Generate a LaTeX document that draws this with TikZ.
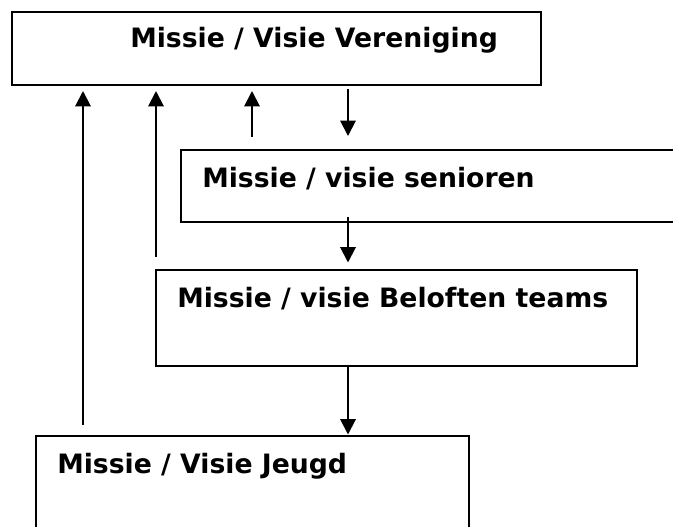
\documentclass[tikz,border=0pt]{standalone}
\usepackage{fontspec}
\setmainfont{DejaVu Sans}
\usetikzlibrary{arrows.meta}

\tikzset{
  box/.style={draw, line width=1.5pt, anchor=north west, inner sep=0pt},
  title/.style={draw=none, anchor=base west, inner sep=0pt,
    font=\bfseries\fontsize{20}{24}\selectfont},
  flow/.style={line width=1.5pt, -{Triangle[width=11.6pt,length=11.6pt]}}
}

\begin{document}
\begin{tikzpicture}[x=.75pt, y=-.75pt]
            \useasboundingbox (0,0) rectangle (673,527);

            % the four boxes
            \node[box, minimum width=529*.75pt, minimum height=73*.75pt] (vereniging) at (11, 11) {};
            \node[box, minimum width=520*.75pt, minimum height=72*.75pt] (senioren) at (180, 149) {};
            \node[box, minimum width=481*.75pt, minimum height=96*.75pt] (beloften) at (155, 269) {};
            \node[box, minimum width=433*.75pt, minimum height=110*.75pt] (jeugd) at (35, 435) {};

            \node[title] (tvereniging) at (130, 47.5) {Missie / Visie Vereniging};
            \node[title] (tsenioren) at (202, 188) {Missie / visie senioren};
            \node[title] (tbeloften) at (177, 307) {Missie / visie Beloften teams};
            \node[title] (tjeugd) at (57, 473) {Missie / Visie Jeugd};

            % upwards
            \draw[flow, shorten <=10*.75pt, shorten >=5*.75pt] (83,0 |- jeugd.north) -- (83,0 |- vereniging.south);
            \draw[flow, shorten <=12*.75pt, shorten >=5*.75pt] (156,0 |- beloften.north) -- (156,0 |- vereniging.south);
            \draw[flow, shorten <=12*.75pt, shorten >=5*.75pt] (252,0 |- senioren.north) -- (252,0 |- vereniging.south);

            % downwards
            \draw[flow, shorten <=3.5*.75pt, shorten >=13*.75pt] (348,0 |- vereniging.south) -- (348,0 |- senioren.north);
            \draw[flow, shorten <=-6.5*.75pt, shorten >=6.5*.75pt] (348,0 |- senioren.south) -- (348,0 |- beloften.north);
            \draw[flow, shorten <=-2.5*.75pt, shorten >=.5*.75pt] (348,0 |- beloften.south) -- (348,0 |- jeugd.north);

            \end{tikzpicture}
\end{document}
